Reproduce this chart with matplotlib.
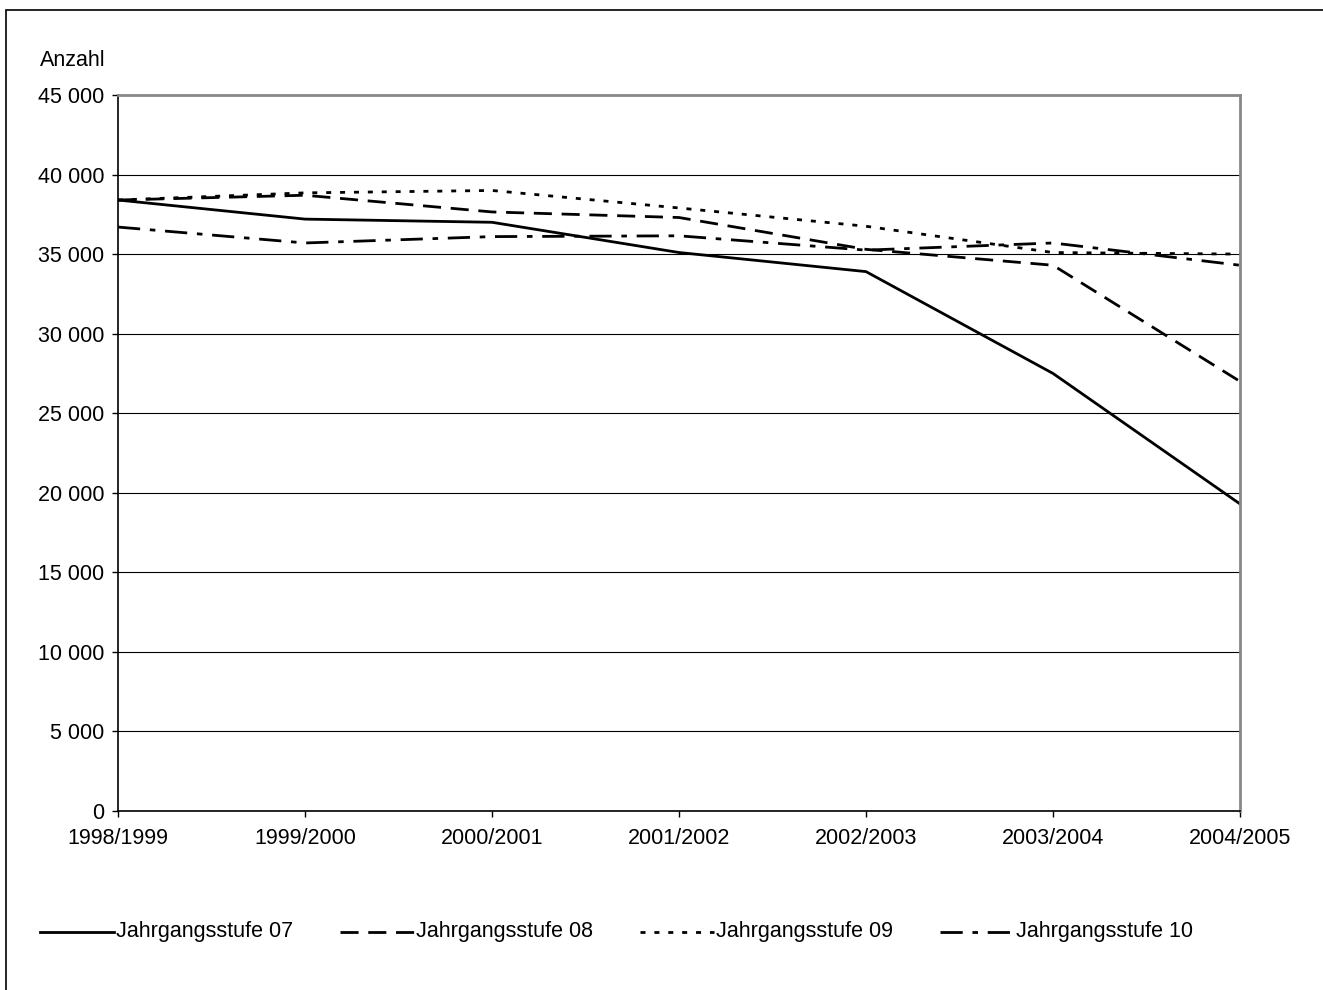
import matplotlib.pyplot as plt
from matplotlib.lines import Line2D
from matplotlib.patches import Rectangle
from matplotlib.ticker import FuncFormatter

plt.rcParams['font.family'] = ['Liberation Sans', 'DejaVu Sans']
plt.rcParams['lines.scale_dashes'] = False

schuljahre = ['1998/1999', '1999/2000', '2000/2001', '2001/2002',
              '2002/2003', '2003/2004', '2004/2005']
stufe_07 = [38400, 37200, 37000, 35100, 33900, 27500, 19300]
stufe_08 = [38400, 38700, 37650, 37300, 35300, 34300, 27000]
stufe_09 = [38400, 38850, 39000, 37900, 36750, 35100, 35000]
stufe_10 = [36700, 35700, 36100, 36150, 35250, 35700, 34300]
legend_labels = ['Jahrgangsstufe 07', 'Jahrgangsstufe 08',
                 'Jahrgangsstufe 09', 'Jahrgangsstufe 10']

styles = [
    dict(linestyle='-'),
    dict(linestyle=(0, (13, 7))),
    dict(linestyle=(0, (3.6, 6.4))),
    dict(linestyle=(0, (16, 7, 4, 7))),
]
lw = 2.0
fs = 15.5

fig = plt.figure(figsize=(13.23, 9.9), dpi=100)
fig.patches.append(Rectangle((6 / 1323, -0.1), 1.2, 1.1 - 10 / 990,
                             transform=fig.transFigure, fill=False,
                             edgecolor='black', linewidth=1.2))

ax = fig.add_axes([118 / 1323, 1 - 811 / 990, 1122 / 1323, 716 / 990])
x = list(range(len(schuljahre)))
for serie, st in zip([stufe_07, stufe_08, stufe_09, stufe_10], styles):
    ax.plot(x, serie, color='black', linewidth=lw, **st)

ax.set_xlim(0, len(schuljahre) - 1)
ax.set_ylim(0, 45000)
ax.set_yticks(range(0, 45001, 5000))
ax.yaxis.set_major_formatter(FuncFormatter(lambda v, p: f'{int(v):,}'.replace(',', ' ')))
ax.set_xticks(x)
ax.set_xticklabels(schuljahre)
ax.tick_params(axis='both', labelsize=fs, direction='out', length=4, width=1)
ax.tick_params(axis='x', pad=8)
ax.tick_params(axis='y', pad=6)
ax.grid(axis='y', color='black', linewidth=0.8)
ax.set_axisbelow(True)
for side in ['left', 'bottom']:
    ax.spines[side].set_color('black')
    ax.spines[side].set_linewidth(1.2)
for side in ['top', 'right']:
    ax.spines[side].set_color('#888888')
    ax.spines[side].set_linewidth(2)

fig.text(40 / 1323, 1 - 60 / 990, 'Anzahl', fontsize=fs, ha='left', va='center')

# legend row below the plot
leg_y = 1 - 932 / 990
for i, (lab, st) in enumerate(zip(legend_labels, styles)):
    x0 = (40 + i * 300) / 1323
    fig.lines.append(Line2D([x0, x0 + 74 / 1323], [leg_y, leg_y],
                            transform=fig.transFigure, color='black',
                            linewidth=lw, **st))
    fig.text(x0 + 76 / 1323, leg_y, lab, fontsize=fs, ha='left', va='center')

fig.savefig('out.png', dpi=100)
